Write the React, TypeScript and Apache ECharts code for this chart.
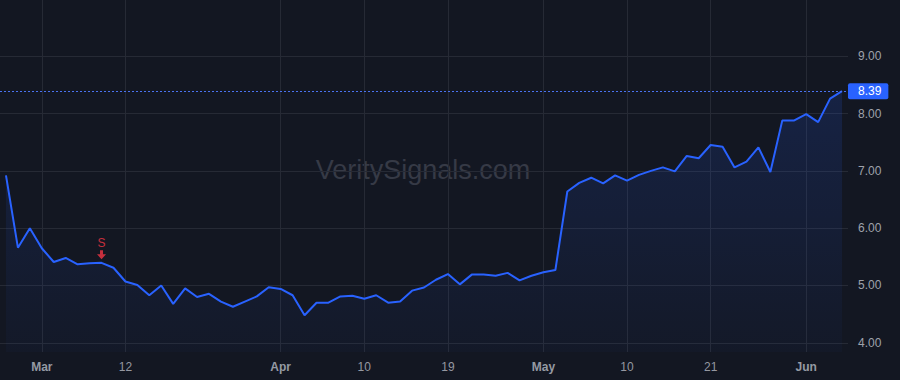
import React, { useEffect, useRef } from "react";
import * as echarts from "echarts";

const dates: string[] = [
  "2024-02-27", "2024-02-28", "2024-02-29", "2024-03-01", "2024-03-04", "2024-03-05", "2024-03-06", "2024-03-07",
  "2024-03-08", "2024-03-11", "2024-03-12", "2024-03-13", "2024-03-14", "2024-03-15", "2024-03-18", "2024-03-19",
  "2024-03-20", "2024-03-21", "2024-03-22", "2024-03-25", "2024-03-26", "2024-03-27", "2024-03-28", "2024-04-01",
  "2024-04-02", "2024-04-03", "2024-04-04", "2024-04-05", "2024-04-08", "2024-04-09", "2024-04-10", "2024-04-11",
  "2024-04-12", "2024-04-15", "2024-04-16", "2024-04-17", "2024-04-18", "2024-04-19", "2024-04-22", "2024-04-23",
  "2024-04-24", "2024-04-25", "2024-04-26", "2024-04-29", "2024-04-30", "2024-05-01", "2024-05-02", "2024-05-03",
  "2024-05-06", "2024-05-07", "2024-05-08", "2024-05-09", "2024-05-10", "2024-05-13", "2024-05-14", "2024-05-15",
  "2024-05-16", "2024-05-17", "2024-05-20", "2024-05-21", "2024-05-22", "2024-05-23", "2024-05-24", "2024-05-28",
  "2024-05-29", "2024-05-30", "2024-05-31", "2024-06-03", "2024-06-04", "2024-06-05", "2024-06-06",
];

const prices: number[] = [
  6.92, 5.66, 6.0, 5.65, 5.41, 5.48, 5.37, 5.39, 5.395, 5.31, 5.07, 5.01, 4.83, 5.0, 4.68, 4.95,
  4.8, 4.855, 4.72, 4.63, 4.72, 4.81, 4.97, 4.94, 4.83, 4.48, 4.7, 4.7, 4.81, 4.82, 4.77, 4.83,
  4.7, 4.72, 4.91, 4.965, 5.1, 5.2, 5.02, 5.19, 5.19, 5.17, 5.22, 5.09, 5.17, 5.23, 5.27, 6.64,
  6.79, 6.88, 6.78, 6.92, 6.83, 6.93, 7.0, 7.06, 6.99, 7.26, 7.22, 7.45, 7.42, 7.06, 7.16, 7.41,
  6.98, 7.88, 7.88, 7.99, 7.85, 8.26, 8.39,
];

const tickLabelDates: string[] = [
  "2024-03-01", "2024-03-12", "2024-04-01", "2024-04-10", "2024-04-19",
  "2024-05-01", "2024-05-10", "2024-05-21", "2024-06-03",
];
const tickLabels: string[] = ["Mar", "12", "Apr", "10", "19", "May", "10", "21", "Jun"];
const monthLabels: string[] = ["Mar", "Apr", "May", "Jun"];

const signalDate = "2024-03-08";
const signalText = "S";
const lastPrice = 8.39;
const watermark = "VeritySignals.com";

const BG = "#131722";
const GRID = "#262a35";
const BLUE = "#2962ff";
const FONT = "'Liberation Sans', Arial, sans-serif";

export default function App() {
  const ref = useRef<HTMLDivElement>(null);

  useEffect(() => {
    document.body.style.margin = "0";
    if (!ref.current) return;
    const chart = echarts.init(ref.current, undefined, { renderer: "svg" });

    const labelMap: Record<string, string> = {};
    tickLabelDates.forEach((d, i) => (labelMap[d] = tickLabels[i]));
    const signalIdx = dates.indexOf(signalDate);

    chart.setOption({
      animation: false,
      backgroundColor: BG,
      textStyle: { fontFamily: FONT },
      grid: { left: 0, right: 52, top: 0, bottom: 28 },
      graphic: [
        {
          type: "text",
          x: 423,
          y: 170,
          z: 0,
          silent: true,
          style: {
            text: watermark,
            fontSize: 27,
            fontFamily: FONT,
            fill: "#363a46",
            align: "center",
            verticalAlign: "middle",
          },
        },
      ],
      xAxis: {
        type: "category",
        data: dates,
        boundaryGap: true,
        axisLine: { show: false },
        axisTick: { show: false },
        axisLabel: {
          interval: (_i: number, v: string) => labelMap[v] !== undefined,
          formatter: (v: string) => {
            const t = labelMap[v] ?? "";
            return monthLabels.includes(t) ? `{m|${t}}` : `{d|${t}}`;
          },
          margin: 9,
          rich: {
            m: { fontSize: 12, fontWeight: "bold", color: "#959aa3", fontFamily: FONT },
            d: { fontSize: 12, color: "#9598a1", fontFamily: FONT },
          },
        },
        splitLine: {
          show: true,
          alignWithLabel: true,
          interval: (_i: number, v: string) => labelMap[v] !== undefined,
          lineStyle: { color: GRID, width: 1 },
        },
      },
      yAxis: {
        type: "value",
        position: "right",
        min: 3.84,
        max: 9.98,
        splitNumber: 5,
        axisLine: { show: false },
        axisTick: { show: false },
        axisLabel: {
          showMinLabel: false,
          showMaxLabel: false,
          margin: 10,
          color: "#9fa2ab",
          fontSize: 12,
          fontFamily: FONT,
          formatter: (v: number) => v.toFixed(2),
        },
        splitLine: {
          show: true,
          showMinLine: false,
          showMaxLine: false,
          lineStyle: { color: GRID, width: 1 },
        },
      },
      series: [
        {
          type: "line",
          data: prices,
          showSymbol: false,
          symbol: "none",
          z: 3,
          lineStyle: { color: BLUE, width: 2 },
          areaStyle: {
            color: new echarts.graphic.LinearGradient(0, 0, 0, 1, [
              { offset: 0, color: "rgba(41,98,255,0.22)" },
              { offset: 1, color: "rgba(41,98,255,0.04)" },
            ]),
          },
          markLine: {
            silent: true,
            symbol: ["none", "none"],
            lineStyle: { color: "#4a72f0", width: 1, type: [2, 2] },
            label: {
              show: true,
              position: "end",
              distance: 0,
              formatter: () => lastPrice.toFixed(2),
              backgroundColor: BLUE,
              color: "#ffffff",
              fontSize: 12,
              fontFamily: FONT,
              padding: [2, 7, 2, 10],
              borderRadius: 2,
            },
            data: [{ yAxis: lastPrice }],
          },
        },
        {
          type: "scatter",
          z: 5,
          data: [[signalIdx, prices[signalIdx]]],
          symbol: "path://M3,0 L6,0 L6,4 L9,4 L4.5,9 L0,4 L3,4 Z",
          symbolSize: [9, 9],
          symbolOffset: [0, -8],
          itemStyle: { color: "#f23645" },
          label: {
            show: true,
            position: "top",
            distance: 1,
            formatter: () => signalText,
            color: "#f23645",
            fontSize: 12,
            fontFamily: FONT,
          },
        },
      ],
    });

    return () => chart.dispose();
  }, []);

  return <div ref={ref} style={{ width: 900, height: 380, background: BG }} />;
}
